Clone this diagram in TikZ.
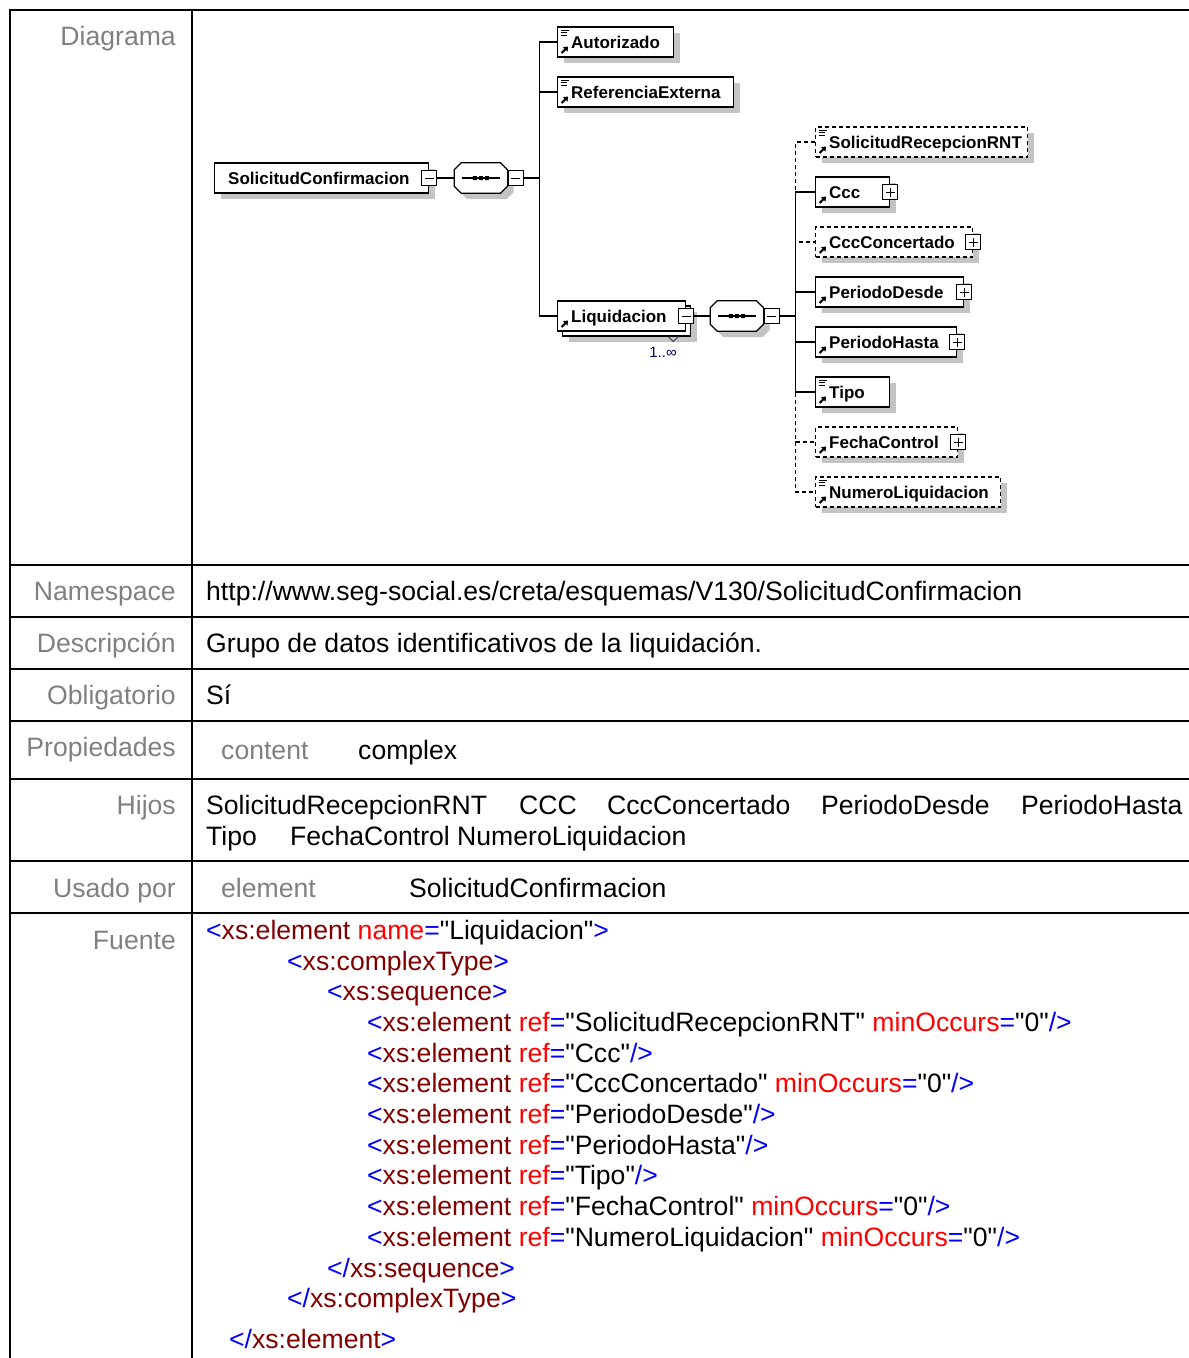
\documentclass[tikz,border=0pt]{standalone}
\usepackage{fontspec}
\setmainfont{Liberation Sans}
\newfontfamily\codefont{Liberation Sans}
\usetikzlibrary{positioning,shadows,arrows.meta}

\definecolor{lblgray}{HTML}{808080}
\definecolor{shgray}{HTML}{C4C4C4}
\definecolor{xmlblue}{HTML}{0000FF}
\definecolor{xmltag}{HTML}{800000}
\definecolor{xmlattr}{HTML}{FF0000}
\definecolor{multnavy}{HTML}{000066}

\newcommand{\tabfont}{\fontsize{26.6}{32}\selectfont}
\newcommand{\elemfont}{\fontsize{17}{20}\selectfont\bfseries}
\newcommand{\multfont}{\fontsize{15}{17}\selectfont}
\newcommand{\xmlb}[1]{\textcolor{xmlblue}{#1}}
\newcommand{\xmlt}[1]{\textcolor{xmltag}{#1}}
\newcommand{\xmla}[1]{\textcolor{xmlattr}{#1}}

% marks inside the element boxes
\newcommand{\refmark}{%
  \draw[solid, line width=2pt, -{Triangle[length=4pt,width=6pt]}]
    ([shift={(4pt,4pt)}]path picture bounding box.south west) -- ++(6.5pt,6.5pt);}
\newcommand{\simplemark}{%
  \draw[solid, line width=1pt]
    ([shift={(3pt,-3pt)}]path picture bounding box.north west) -- ++(8pt,0pt)
    ([shift={(3pt,-5.8pt)}]path picture bounding box.north west) -- ++(6pt,0pt)
    ([shift={(3pt,-8.6pt)}]path picture bounding box.north west) -- ++(6pt,0pt);}
% octagon of a sequence node
\newcommand{\octpath}[1]{([xshift=7pt]#1.north west) -- ([xshift=-7pt]#1.north east)
  -- ([yshift=-7pt]#1.north east) -- ([yshift=7pt]#1.south east)
  -- ([xshift=-7pt]#1.south east) -- ([xshift=7pt]#1.south west)
  -- ([yshift=7pt]#1.south west) -- ([yshift=-7pt]#1.north west) -- cycle}
\newcommand{\seqdraw}[1]{%
  \fill[shgray, transform canvas={shift={(6pt,-6pt)}}] \octpath{#1};
  \draw[link, fill=white] \octpath{#1};
  \draw[link] ([xshift=-19pt]#1.center) -- ([xshift=19pt]#1.center);
  \fill ([shift={(-8pt,-2pt)}]#1.center) rectangle ++(4pt,4pt)
        ([shift={(-2pt,-2pt)}]#1.center) rectangle ++(4pt,4pt)
        ([shift={(4pt,-2pt)}]#1.center) rectangle ++(4pt,4pt);}

\tikzset{
  tabline/.style={line width=2pt},
  lbl/.style={anchor=base east, inner sep=0pt, text=lblgray, font=\tabfont},
  val/.style={anchor=base west, inner sep=0pt, font=\tabfont},
  code/.style={val, font=\codefont\tabfont},
  elem/.style={rectangle, draw, fill=white, line width=1.2pt, anchor=west,
    minimum height=30pt, inner sep=0pt,
    general shadow={fill=shgray, shadow xshift=6pt, shadow yshift=-6pt}},
  multi/.style={rectangle, draw, fill=white, line width=1.2pt, anchor=west,
    minimum height=30pt, inner sep=0pt,
    general shadow={fill=shgray, shadow xshift=11pt, shadow yshift=-11pt},
    general shadow={fill=white, draw=black, shadow xshift=5pt, shadow yshift=-5pt}},
  opt/.style={dash pattern=on 4pt off 3pt},
  isref/.style={path picture={\refmark}},
  issimple/.style={path picture={\refmark\simplemark}},
  ename/.style={anchor=west, inner sep=0pt, font=\elemfont, text height=12pt, text depth=0pt},
  tgl/.style={rectangle, draw, fill=white, line width=1pt, minimum size=15pt, inner sep=0pt},
  minus/.style={tgl, path picture={
    \draw[line width=1pt] ([xshift=3pt]path picture bounding box.west) -- ([xshift=-3pt]path picture bounding box.east);}},
  plus/.style={tgl, path picture={
    \draw[line width=1pt] ([xshift=3pt]path picture bounding box.west) -- ([xshift=-3pt]path picture bounding box.east)
      ([yshift=-3pt]path picture bounding box.north) -- ([yshift=3pt]path picture bounding box.south);}},
  seq/.style={rectangle, minimum width=53pt, minimum height=30pt, inner sep=0pt, anchor=west},
  link/.style={line width=1.2pt},
  mult/.style={inner sep=0pt, font=\multfont, text=multnavy}
}

\begin{document}
\begin{tikzpicture}[x=1pt, y=-1pt]
    \useasboundingbox (0,0) rectangle (1189,1358);

    % Table frame
    \draw[tabline] (10,1358) -- (10,10) -- (1189,10);
    \draw[tabline] (192,10) -- (192,1358);
    \draw[tabline] (10,565) -- (1189,565);
    \draw[tabline] (10,617) -- (1189,617);
    \draw[tabline] (10,669) -- (1189,669);
    \draw[tabline] (10,721) -- (1189,721);
    \draw[tabline] (10,779) -- (1189,779);
    \draw[tabline] (10,861) -- (1189,861);
    \draw[tabline] (10,913) -- (1189,913);

    % Row labels
    \node[lbl] (diagrama) at (176,45) {Diagrama};
    \node[lbl] (namespace) at (176,600) {Namespace};
    \node[lbl] (descripcion) at (176,652) {Descripción};
    \node[lbl] (obligatorio) at (176,704) {Obligatorio};
    \node[lbl] (propiedades) at (176,756) {Propiedades};
    \node[lbl] (hijos) at (176,814) {Hijos};
    \node[lbl] (usado) at (176,897) {Usado por};
    \node[lbl] (fuente) at (176,949) {Fuente};

    % Row values
    \node[val] (namespace-v) at (206,600) {http://www.seg-social.es/creta/esquemas/V130/SolicitudConfirmacion};
    \node[val] (descripcion-v) at (206,652) {Grupo de datos identificativos de la liquidación.};
    \node[val] (obligatorio-v) at (206,704) {Sí};
    \node[val, text=lblgray] (content-k) at (221,759) {content};
    \node[val] (content-v) at (358,759) {complex};
    \node[val] (hijo1) at (206,814) {SolicitudRecepcionRNT};
    \node[val] (hijo2) at (519,814) {CCC};
    \node[val] (hijo3) at (607,814) {CccConcertado};
    \node[val] (hijo4) at (821,814) {PeriodoDesde};
    \node[val] (hijo5) at (1021,814) {PeriodoHasta};
    \node[val] (hijo6) at (206,845) {Tipo};
    \node[val] (hijo7) at (290,845) {FechaControl};
    \node[val] (hijo8) at (457,845) {NumeroLiquidacion};
    \node[val, text=lblgray] (usado-k) at (221,897) {element};
    \node[val] (usado-v) at (409,897) {SolicitudConfirmacion};

    % Source
    \node[code] (src1) at (206,939) {\xmlb{<}\xmlt{xs:element} \xmla{name}\xmlb{=}"Liquidacion"\xmlb{>}};
    \node[code] (src2) at (287,970) {\xmlb{<}\xmlt{xs:complexType}\xmlb{>}};
    \node[code] (src3) at (327,1000) {\xmlb{<}\xmlt{xs:sequence}\xmlb{>}};
    \node[code] (src4) at (367,1031) {\xmlb{<}\xmlt{xs:element} \xmla{ref}\xmlb{=}"SolicitudRecepcionRNT" \xmla{minOccurs}\xmlb{=}"0"\xmlb{/>}};
    \node[code] (src5) at (367,1062) {\xmlb{<}\xmlt{xs:element} \xmla{ref}\xmlb{=}"Ccc"\xmlb{/>}};
    \node[code] (src6) at (367,1092) {\xmlb{<}\xmlt{xs:element} \xmla{ref}\xmlb{=}"CccConcertado" \xmla{minOccurs}\xmlb{=}"0"\xmlb{/>}};
    \node[code] (src7) at (367,1123) {\xmlb{<}\xmlt{xs:element} \xmla{ref}\xmlb{=}"PeriodoDesde"\xmlb{/>}};
    \node[code] (src8) at (367,1154) {\xmlb{<}\xmlt{xs:element} \xmla{ref}\xmlb{=}"PeriodoHasta"\xmlb{/>}};
    \node[code] (src9) at (367,1184) {\xmlb{<}\xmlt{xs:element} \xmla{ref}\xmlb{=}"Tipo"\xmlb{/>}};
    \node[code] (src10) at (367,1215) {\xmlb{<}\xmlt{xs:element} \xmla{ref}\xmlb{=}"FechaControl" \xmla{minOccurs}\xmlb{=}"0"\xmlb{/>}};
    \node[code] (src11) at (367,1246) {\xmlb{<}\xmlt{xs:element} \xmla{ref}\xmlb{=}"NumeroLiquidacion" \xmla{minOccurs}\xmlb{=}"0"\xmlb{/>}};
    \node[code] (src12) at (327,1277) {\xmlb{</}\xmlt{xs:sequence}\xmlb{>}};
    \node[code] (src13) at (287,1307) {\xmlb{</}\xmlt{xs:complexType}\xmlb{>}};
    \node[code] (src14) at (229,1348) {\xmlb{</}\xmlt{xs:element}\xmlb{>}};

    % Diagram: root element and its sequence
    \node[elem, minimum width=214pt] (root) at (214,178) {};
    \node[ename, right=14pt of root.west] (root-txt) {SolicitudConfirmacion};
    \node[minus] (root-tgl) at (root.east) {};
    \node[seq, right=17pt of root-tgl] (seq1) {};
    \seqdraw{seq1}
    \node[minus, right=0pt of seq1] (seq1-tgl) {};
    \coordinate[right=16pt of seq1-tgl] (bus1);

    \node[elem, issimple, minimum width=116pt] (autorizado) at (557,42) {};
    \node[ename, right=14pt of autorizado.west] (autorizado-txt) {Autorizado};
    \node[elem, issimple, minimum width=176pt] (refext) at (557,92) {};
    \node[ename, right=14pt of refext.west] (refext-txt) {ReferenciaExterna};
    \node[multi, isref, minimum width=128pt] (liq) at (557,316) {};
    \node[ename, right=14pt of liq.west] (liq-txt) {Liquidacion};
    \node[minus] (liq-tgl) at (liq.east) {};
    \draw[line width=1pt, black!70] ([shift={(-18pt,-5pt)}]liq.south east) -- ++(5pt,-5pt) -- ++(5pt,5pt);
    \node[mult] (liq-occ) at (663,352) {1..∞};

    \draw[link] (root-tgl) -- (seq1);
    \draw[link] (seq1-tgl) -- (bus1);
    \draw[link] (bus1) |- (autorizado.west);
    \draw[link] (bus1) |- (refext.west);
    \draw[link] (bus1) |- (liq.west);

    % Diagram: sequence of Liquidacion
    \node[seq, right=16pt of liq-tgl] (seq2) {};
    \seqdraw{seq2}
    \node[minus, right=0pt of seq2] (seq2-tgl) {};
    \coordinate[right=16pt of seq2-tgl] (bus2);

    \node[elem, opt, issimple, minimum width=212pt] (rnt) at (815,142) {};
    \node[ename, right=14pt of rnt.west] (rnt-txt) {SolicitudRecepcionRNT};
    \node[elem, isref, minimum width=74pt] (ccc) at (815,192) {};
    \node[ename, right=14pt of ccc.west] (ccc-txt) {Ccc};
    \node[plus] (ccc-tgl) at (ccc.east) {};
    \node[elem, opt, isref, minimum width=157pt] (cccc) at (815,242) {};
    \node[ename, right=14pt of cccc.west] (cccc-txt) {CccConcertado};
    \node[plus] (cccc-tgl) at (cccc.east) {};
    \node[elem, isref, minimum width=148pt] (desde) at (815,292) {};
    \node[ename, right=14pt of desde.west] (desde-txt) {PeriodoDesde};
    \node[plus] (desde-tgl) at (desde.east) {};
    \node[elem, isref, minimum width=141pt] (hasta) at (815,342) {};
    \node[ename, right=14pt of hasta.west] (hasta-txt) {PeriodoHasta};
    \node[plus] (hasta-tgl) at (hasta.east) {};
    \node[elem, issimple, minimum width=74pt] (tipo) at (815,392) {};
    \node[ename, right=14pt of tipo.west] (tipo-txt) {Tipo};
    \node[elem, opt, isref, minimum width=142pt] (fecha) at (815,442) {};
    \node[ename, right=14pt of fecha.west] (fecha-txt) {FechaControl};
    \node[plus] (fecha-tgl) at (fecha.east) {};
    \node[elem, opt, issimple, minimum width=185pt] (numliq) at (815,492) {};
    \node[ename, right=14pt of numliq.west] (numliq-txt) {NumeroLiquidacion};

    \draw[link] (liq-tgl) -- (seq2);
    \draw[link] (seq2-tgl) -- (bus2);
    \draw[link] (bus2) |- (ccc.west);
    \draw[link] (bus2) |- (desde.west);
    \draw[link] (bus2) |- (hasta.west);
    \draw[link] (bus2) |- (tipo.west);
    \draw[link, opt] (bus2) |- (rnt.west);
    \draw[link, opt] (bus2) |- (cccc.west);
    \draw[link, opt] (bus2) |- (fecha.west);
    \draw[link, opt] (bus2) |- (numliq.west);
\end{tikzpicture}
\end{document}
